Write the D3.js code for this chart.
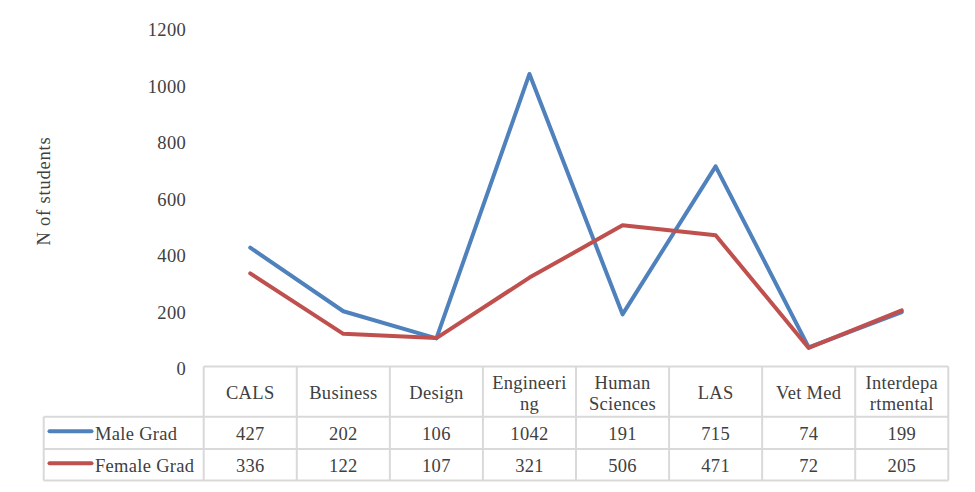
<!DOCTYPE html>
<html lang="en">
<head>
<meta charset="utf-8">
<title>Grad students by college</title>
<script src="https://d3js.org/d3.v7.min.js"></script>
<style>
  body { margin: 0; background: #fff; }
  svg { display: block; }
  text { font-family: "Liberation Serif", "DejaVu Serif", serif; fill: #404040; letter-spacing: 0.3px; }
</style>
</head>
<body>
<script>
// data
const categories = ["CALS", "Business", "Design", "Engineering", "Human Sciences", "LAS", "Vet Med", "Interdepartmental"];
const headerLines = [["CALS"], ["Business"], ["Design"], ["Engineeri", "ng"], ["Human", "Sciences"], ["LAS"], ["Vet Med"], ["Interdepa", "rtmental"]];
const maleGrad = [427, 202, 106, 1042, 191, 715, 74, 199];
const femaleGrad = [336, 122, 107, 321, 506, 471, 72, 205];
const seriesNames = ["Male Grad", "Female Grad"];
const seriesColors = ["#4F81BD", "#C0504D"];
const yTicks = [0, 200, 400, 600, 800, 1000, 1200];

const W = 975, H = 492;
const plotLeft = 203.7, plotRight = 948.3;
const tableLeft = 43.7;
const rowEdges = [366.5, 416.7, 449, 480.5];
const fontSize = 18.5;

const svg = d3.select("body").append("svg").attr("width", W).attr("height", H);

const x = d3.scaleBand().domain(categories).range([plotLeft, plotRight]);
const y = d3.scaleLinear().domain([0, 1200]).range([368.3, 29.3]);

// y axis (no line, no ticks, just labels)
const yAxis = d3.axisLeft(y).tickValues(yTicks).tickFormat(d3.format("d")).tickSize(0).tickPadding(0);
const gy = svg.append("g").attr("transform", "translate(186,0)").call(yAxis)
  .attr("font-size", null).attr("font-family", null);
gy.select(".domain").remove();
gy.selectAll("text")
  .style("font-size", fontSize + "px")
  .attr("fill", "#404040")
  .attr("dy", "0.34em");

svg.append("text")
  .attr("transform", "translate(50,191) rotate(-90)")
  .attr("text-anchor", "middle")
  .style("font-size", fontSize + "px")
  .style("letter-spacing", "0.8px")
  .text("N of students");

// data table
const grid = svg.append("g").attr("stroke", "#D9D9D9").attr("stroke-width", 2).attr("fill", "none");
grid.append("line").attr("x1", plotLeft).attr("x2", plotRight).attr("y1", rowEdges[0]).attr("y2", rowEdges[0]);
rowEdges.slice(1).forEach(r => {
  grid.append("line").attr("x1", tableLeft).attr("x2", plotRight).attr("y1", r).attr("y2", r);
});
grid.append("line").attr("x1", tableLeft).attr("x2", tableLeft).attr("y1", rowEdges[1]).attr("y2", rowEdges[3]);
categories.forEach(c => {
  grid.append("line").attr("x1", x(c)).attr("x2", x(c)).attr("y1", rowEdges[0]).attr("y2", rowEdges[3]);
});
grid.append("line").attr("x1", plotRight).attr("x2", plotRight).attr("y1", rowEdges[0]).attr("y2", rowEdges[3]);

// header labels
const headerMid = (rowEdges[0] + rowEdges[1]) / 2 + 1.5;
const lineGap = 20.7;
categories.forEach((c, i) => {
  const lines = headerLines[i];
  const t = svg.append("text")
    .attr("text-anchor", "middle")
    .style("font-size", fontSize + "px");
  lines.forEach((ln, j) => {
    t.append("tspan")
      .attr("x", x(c) + x.bandwidth() / 2)
      .attr("y", headerMid + (j - (lines.length - 1) / 2) * lineGap)
      .attr("dy", "0.34em")
      .text(ln);
  });
});

// value rows with legend keys
[maleGrad, femaleGrad].forEach((vals, s) => {
  const mid = (rowEdges[s + 1] + rowEdges[s + 2]) / 2 + 1;
  svg.append("line")
    .attr("x1", 49.5).attr("x2", 91.5)
    .attr("y1", mid - 2.5).attr("y2", mid - 2.5)
    .attr("stroke", seriesColors[s]).attr("stroke-width", 4)
    .attr("stroke-linecap", "round");
  svg.append("text")
    .attr("x", 95).attr("y", mid).attr("dy", "0.34em")
    .style("font-size", fontSize + "px")
    .text(seriesNames[s]);
  svg.selectAll(null).data(vals).enter().append("text")
    .attr("x", (d, i) => x(categories[i]) + x.bandwidth() / 2)
    .attr("y", mid).attr("dy", "0.34em")
    .attr("text-anchor", "middle")
    .style("font-size", fontSize + "px")
    .text(d => d);
});

// series lines
const line = d3.line()
  .x((d, i) => x(categories[i]) + x.bandwidth() / 2)
  .y(d => y(d));

[maleGrad, femaleGrad].forEach((vals, s) => {
  svg.append("path")
    .datum(vals)
    .attr("d", line)
    .attr("fill", "none")
    .attr("stroke", seriesColors[s])
    .attr("stroke-width", 4)
    .attr("stroke-linejoin", "round")
    .attr("stroke-linecap", "round");
});
</script>
</body>
</html>
